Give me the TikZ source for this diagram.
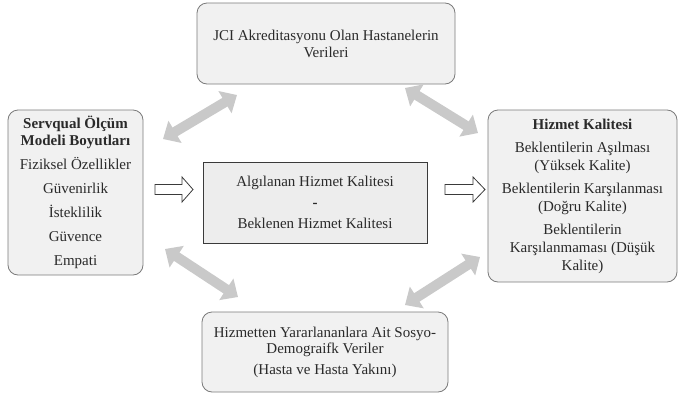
\documentclass[tikz,border=0pt]{standalone}
\usepackage{fontspec}
\setmainfont{Liberation Serif}
\usetikzlibrary{arrows.meta}
\definecolor{boxfill}{HTML}{F1F1F1}
\definecolor{midfill}{HTML}{EDEDED}
\definecolor{boxline}{HTML}{7A7A7A}
\definecolor{txt}{HTML}{2A2A2A}
\definecolor{dbl}{HTML}{C9C9C9}
\definecolor{darkline}{HTML}{3A3A3A}
\tikzset{
  rbox/.style={draw=boxline, fill=boxfill, rounded corners=10pt, line width=0.8pt,
    inner sep=0pt, align=center, text=txt, font=\fontsize{15}{17}\selectfont},
  cbox/.style={draw=darkline, fill=midfill, line width=1pt,
    inner sep=0pt, align=center, text=txt, font=\fontsize{15}{17}\selectfont},
  dblarrow/.style={draw=dbl, line width=10pt,
    {Triangle[width=25pt,length=14pt]}-{Triangle[width=25pt,length=14pt]}},
  hollow/.style={draw=darkline, fill=white, line width=0.8pt, line join=miter}
}
\begin{document}
\begin{tikzpicture}[x=1pt,y=-1pt]
\useasboundingbox (0,0) rectangle (678,394);

\node[rbox, minimum width=258pt, minimum height=81pt] (top) at (326,43.5)
  {JCI Akreditasyonu Olan Hastanelerin\\Verileri};

\node[rbox, minimum width=135pt, minimum height=165pt] (left) at (75.5,192.5)
  {\textbf{Servqual Ölçüm}\\\textbf{Modeli Boyutları}\\[7pt]
   Fiziksel Özellikler\\[7pt] Güvenirlik\\[7pt] İsteklilik\\[7pt] Güvence\\[7pt] Empati};

\node[cbox, minimum width=224pt, minimum height=81pt] (mid) at (315,202.5)
  {Algılanan Hizmet Kalitesi\\[4pt]\textbf{-}\\[4pt]Beklenen Hizmet Kalitesi};

\node[rbox, minimum width=189pt, minimum height=172pt, font=\fontsize{15}{18}\selectfont] (right) at (582.5,196)
  {\textbf{Hizmet Kalitesi}\\[5pt]
   Beklentilerin Aşılması\\(Yüksek Kalite)\\[5pt]
   Beklentilerin Karşılanması\\(Doğru Kalite)\\[5pt]
   Beklentilerin\\Karşılanmaması (Düşük\\Kalite)};

\node[rbox, minimum width=246pt, minimum height=80pt, font=\fontsize{15}{16}\selectfont] (bot) at (325,352)
  {Hizmetten Yararlananlara Ait Sosyo-\\Demograifk Veriler\\[5pt](Hasta ve Hasta Yakını)};

% grey double arrows
\coordinate (a1s) at (163,139);
\coordinate (a1e) at (237,95);
\coordinate (a2s) at (405,88);
\coordinate (a2e) at (478,133);
\coordinate (a3s) at (165,249);
\coordinate (a3e) at (238,297);
\coordinate (a4s) at (405,305);
\coordinate (a4e) at (480,257);
\draw[dblarrow] (a1s) -- (a1e);
\draw[dblarrow] (a2s) -- (a2e);
\draw[dblarrow] (a3s) -- (a3e);
\draw[dblarrow] (a4s) -- (a4e);

% hollow arrows
\coordinate (h1) at (155,189.5);
\coordinate (h2) at (445,189.5);
\draw[hollow] (h1) ++(0,-5) -- ++(27,0) -- ++(0,-7.5) -- ++(11,12.5) -- ++(-11,12.5) -- ++(0,-7.5) -- ++(-27,0) -- cycle;
\draw[hollow] (h2) ++(0,-5) -- ++(28,0) -- ++(0,-7.5) -- ++(12,12.5) -- ++(-12,12.5) -- ++(0,-7.5) -- ++(-28,0) -- cycle;
\end{tikzpicture}
\end{document}
